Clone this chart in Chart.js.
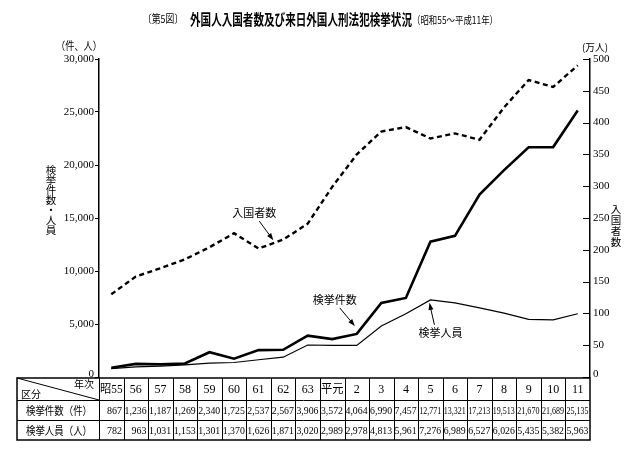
<!DOCTYPE html>
<html lang="ja">
<head>
<meta charset="UTF-8">
<title>外国人入国者数及び来日外国人刑法犯検挙状況</title>
<style>
  html, body { margin: 0; padding: 0; background: #fff; }
  #chart { display: block; }
</style>
</head>
<body>
<canvas id="chart" width="636" height="457"></canvas>
<script src="https://cdn.jsdelivr.net/npm/chart.js"></script>
<script>
// 年次（昭和55～平成11年）
const years = ['昭55', '56', '57', '58', '59', '60', '61', '62', '63', '平元',
               '2', '3', '4', '5', '6', '7', '8', '9', '10', '11'];
// 検挙件数（件）
const arrests = [867, 1236, 1187, 1269, 2340, 1725, 2537, 2567, 3906, 3572,
                 4064, 6990, 7457, 12771, 13321, 17213, 19513, 21670, 21689, 25135];
// 検挙人員（人）
const persons = [782, 963, 1031, 1153, 1301, 1370, 1626, 1871, 3020, 2989,
                 2978, 4813, 5961, 7276, 6989, 6527, 6026, 5435, 5382, 5963];
// 入国者数（万人）
const entrants = [130, 158, 171, 185, 204, 226, 202, 216, 241, 299,
                  350, 386, 393, 375, 383, 373, 424, 467, 456, 490];

const rowLabels = ['検挙件数（件）', '検挙人員（人）'];

const SERIF = '"Liberation Serif", "Noto Sans CJK JP", serif';
const GOTHIC = '"Noto Sans CJK JP", sans-serif';

Chart.defaults.font.family = SERIF;
Chart.defaults.color = '#000';

function vertical(ctx, str, x, y0, step) {
    [...str].forEach((ch, i) => ctx.fillText(ch, x, y0 + i * step));
}

function arrow(ctx, x0, y0, x1, y1) {
    const ang = Math.atan2(y1 - y0, x1 - x0);
    ctx.lineWidth = 1;
    ctx.beginPath();
    ctx.moveTo(x0, y0);
    ctx.lineTo(x1 - Math.cos(ang) * 4, y1 - Math.sin(ang) * 4);
    ctx.stroke();
    ctx.beginPath();
    ctx.moveTo(x1, y1);
    ctx.lineTo(x1 - Math.cos(ang) * 7 + Math.sin(ang) * 2.5, y1 - Math.sin(ang) * 7 - Math.cos(ang) * 2.5);
    ctx.lineTo(x1 - Math.cos(ang) * 7 - Math.sin(ang) * 2.5, y1 - Math.sin(ang) * 7 + Math.cos(ang) * 2.5);
    ctx.closePath();
    ctx.fill();
}

// title, unit labels, annotations and the data table under the plot
const extras = {
    id: 'extras',
    afterDraw(chart) {
        const { ctx, chartArea: a, scales } = chart;
        const x = scales.x, y = scales.y, y1 = scales.y1;
        ctx.save();
        ctx.fillStyle = '#000';
        ctx.strokeStyle = '#000';

        // title
        ctx.textBaseline = 'middle';
        ctx.textAlign = 'left';
        ctx.font = '11px ' + GOTHIC;
        ctx.fillText('〔第5図〕', 143, 19, 40);
        ctx.font = 'bold 15px ' + GOTHIC;
        ctx.fillText('外国人入国者数及び来日外国人刑法犯検挙状況', 190, 19, 222);
        ctx.font = '10.5px ' + GOTHIC;
        ctx.fillText('（昭和55～平成11年）', 412, 20, 86);

        // units and axis titles
        ctx.font = '11px ' + GOTHIC;
        ctx.textAlign = 'center';
        ctx.fillText('（件、人）', 79, 46, 46);
        ctx.font = '10px ' + GOTHIC;
        ctx.fillText('(万人)', 595, 47, 26);
        ctx.font = '10.5px ' + GOTHIC;
        vertical(ctx, '検挙件数・人員', 51, 170, 10);
        vertical(ctx, '入国者数', 616, 209, 11);

        // zero labels sit just above the table
        ctx.font = '11px ' + SERIF;
        ctx.textAlign = 'right';
        ctx.fillText('0', a.left - 5, a.bottom - 3);
        ctx.textAlign = 'left';
        ctx.fillText('0', a.right + 3, a.bottom - 3);

        // right axis ticks point inward
        ctx.lineWidth = 1;
        y1.ticks.forEach(t => {
            const py = Math.round(y1.getPixelForValue(t.value)) + 0.5;
            ctx.beginPath();
            ctx.moveTo(a.right - 7, py);
            ctx.lineTo(a.right, py);
            ctx.stroke();
        });

        // annotations
        ctx.font = '11px ' + GOTHIC;
        ctx.textAlign = 'center';
        const ex0 = x.getPixelForValue(6), ex1 = x.getPixelForValue(7);
        const ey0 = y1.getPixelForValue(entrants[6]), ey1 = y1.getPixelForValue(entrants[7]);
        const ix = ex0 + 0.6 * (ex1 - ex0), iy = ey0 + 0.6 * (ey1 - ey0) - 3;
        ctx.fillText('入国者数', ix - 19, iy - 27);
        arrow(ctx, ix - 14, iy - 19, ix, iy);

        const ax = x.getPixelForValue(10), ay = y.getPixelForValue(arrests[10]);
        ctx.fillText('検挙件数', ax - 22, ay - 34);
        arrow(ctx, ax - 17, ay - 26, ax - 2, ay - 8);

        const px = x.getPixelForValue(13), py = y.getPixelForValue(persons[13]);
        ctx.fillText('検挙人員', px + 10, py + 33);
        arrow(ctx, px + 4, py + 25, px - 1, py + 3);

        // table
        const tl = 17, tr = a.right, top = a.bottom + 1;
        const rows = [top, top + 22, top + 42, top + 62];
        const w = (a.right - a.left) / years.length;
        ctx.lineWidth = 1;
        ctx.beginPath();
        [rows[1], rows[2]].forEach(ry => { ctx.moveTo(tl, ry + 0.5); ctx.lineTo(tr, ry + 0.5); });
        for (let i = 0; i < years.length; i++) {
            const bx = Math.round(x.getPixelForValue(i) - w / 2) + 0.5;
            ctx.moveTo(bx, rows[0]);
            ctx.lineTo(bx, rows[3]);
        }
        ctx.moveTo(tl, rows[0]);
        ctx.lineTo(a.left, rows[1]);
        ctx.stroke();
        ctx.lineWidth = 1.5;
        ctx.strokeRect(tl, rows[0], tr - tl, rows[3] - rows[0]);

        ctx.font = '10px ' + GOTHIC;
        ctx.textAlign = 'right';
        ctx.fillText('年次', a.left - 5, rows[0] + 6);
        ctx.textAlign = 'left';
        ctx.fillText('区分', tl + 4, rows[0] + 16);

        ctx.font = '11px ' + GOTHIC;
        ctx.textAlign = 'center';
        rowLabels.forEach((lab, r) => {
            ctx.fillText(lab, (tl + a.left) / 2 + 1, (rows[r + 1] + rows[r + 2]) / 2 + 1, 66);
        });

        ctx.font = '12px ' + SERIF;
        years.forEach((yr, i) => {
            ctx.fillText(yr, x.getPixelForValue(i), (rows[0] + rows[1]) / 2 + 1, w - 2);
        });

        ctx.font = '10px ' + SERIF;
        ctx.textAlign = 'right';
        [arrests, persons].forEach((vals, r) => {
            const cy = (rows[r + 1] + rows[r + 2]) / 2 + 1;
            vals.forEach((v, i) => {
                const right = x.getPixelForValue(i) + w / 2 - 1.5;
                ctx.fillText(v.toLocaleString('en-US'), right, cy, w - 2.5);
            });
        });

        ctx.restore();
    }
};

new Chart(document.getElementById('chart'), {
    type: 'line',
    data: {
        labels: years,
        datasets: [{
            label: '入国者数',
            data: entrants,
            yAxisID: 'y1',
            borderColor: '#000',
            borderWidth: 2.4,
            borderDash: [5, 3.5],
            pointRadius: 0,
            tension: 0
        }, {
            label: '検挙件数',
            data: arrests,
            yAxisID: 'y',
            borderColor: '#000',
            borderWidth: 2.6,
            pointRadius: 0,
            tension: 0
        }, {
            label: '検挙人員',
            data: persons,
            yAxisID: 'y',
            borderColor: '#000',
            borderWidth: 1.2,
            pointRadius: 0,
            tension: 0
        }]
    },
    options: {
        responsive: false,
        animation: false,
        layout: { padding: { top: 59, bottom: 80, left: 0, right: 0 } },
        plugins: {
            legend: { display: false },
            tooltip: { enabled: false }
        },
        scales: {
            x: { type: 'category', display: false, offset: true },
            y: {
                position: 'left',
                min: 0,
                max: 30000,
                afterFit(scale) { scale.width = 99; },
                ticks: {
                    stepSize: 5000,
                    padding: 1,
                    font: { size: 11 },
                    callback: v => v === 0 ? '' : v.toLocaleString('en-US')
                },
                grid: { drawOnChartArea: false, tickLength: 4, color: '#000' },
                border: { color: '#000', width: 1.5 }
            },
            y1: {
                position: 'right',
                min: 0,
                max: 500,
                afterFit(scale) { scale.width = 46; },
                ticks: {
                    stepSize: 50,
                    padding: 3,
                    font: { size: 11 },
                    callback: v => v === 0 ? '' : v
                },
                grid: { drawOnChartArea: false, drawTicks: false },
                border: { color: '#000', width: 1.5 }
            }
        }
    },
    plugins: [extras]
});
</script>
</body>
</html>
